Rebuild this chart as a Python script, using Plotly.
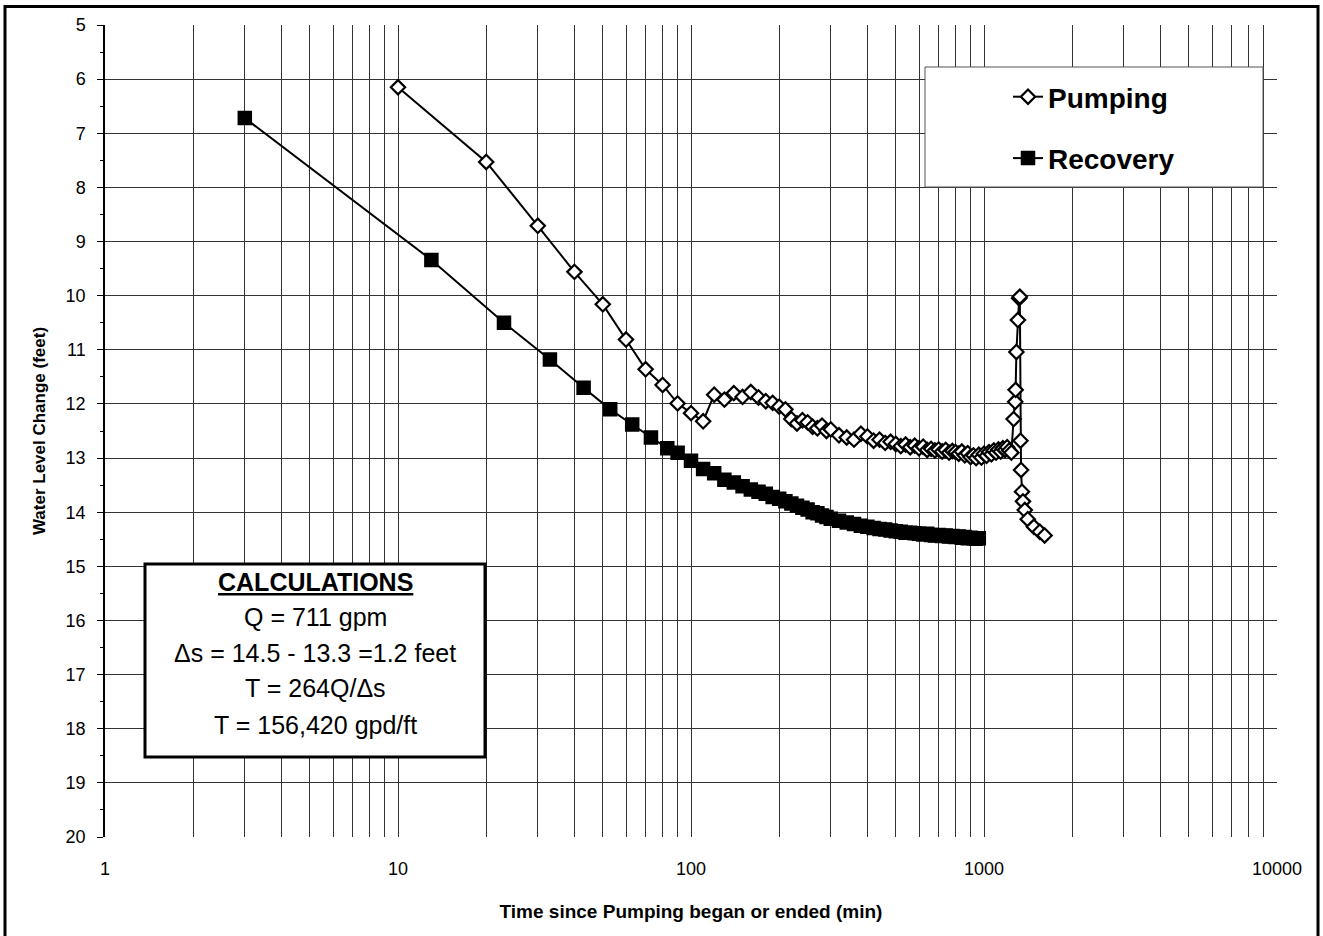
import plotly.graph_objects as go

# ---------------- data ----------------
pump_t = [10, 20, 30, 40, 50, 60, 70, 80, 90, 100, 110,
          120, 130, 140, 150, 160, 170, 180, 190, 200, 210, 220, 230, 240, 250,
          260, 270, 280, 290, 300,
          320, 340, 360, 380, 400, 420, 440, 460, 480, 500, 520, 540, 560, 580,
          600, 620, 640, 660, 680, 700, 720, 740, 760, 780, 800, 820, 840, 860,
          880, 900, 920, 940, 960, 980, 1000, 1020, 1040, 1060, 1080, 1100, 1120,
          1140, 1160, 1180, 1200, 1220, 1240,
          1262, 1278, 1282, 1290, 1305, 1318, 1325, 1332, 1338, 1348, 1358,
          1378, 1410, 1480, 1550, 1610]
pump_v = [6.15, 7.53, 8.71, 9.56, 10.16, 10.81, 11.36, 11.65, 11.99, 12.17, 12.32,
          11.83, 11.92, 11.80, 11.87, 11.78, 11.88, 11.95, 11.98, 12.05, 12.10,
          12.28, 12.36, 12.30, 12.34, 12.42, 12.45, 12.40, 12.50, 12.47,
          12.58, 12.62, 12.66, 12.55, 12.60, 12.68, 12.66, 12.72, 12.70, 12.74,
          12.78, 12.75, 12.80, 12.77, 12.82, 12.79, 12.85, 12.83, 12.86, 12.84,
          12.88, 12.85, 12.90, 12.87, 12.89, 12.92, 12.88, 12.95, 12.91, 12.98,
          12.95, 13.00, 12.94, 12.99, 12.92, 12.96, 12.89, 12.93, 12.86, 12.90,
          12.84, 12.88, 12.82, 12.85, 12.80, 12.86, 12.90,
          12.28, 11.96, 11.74, 11.04, 10.45, 10.05, 10.02, 12.68, 13.22, 13.62,
          13.80, 13.96, 14.13, 14.27, 14.36, 14.43]

rec_t = [3, 13, 23, 33, 43, 53, 63, 73, 83,
         90, 100, 110, 120, 130, 140, 150, 160, 170, 180, 190, 200, 210, 220,
         230, 240, 250, 260, 270, 280, 290, 300,
         320, 340, 360, 380, 400, 420, 440, 460, 480, 500, 520, 540, 560, 580,
         600, 620, 640, 660, 680, 700, 720, 740, 760, 780, 800, 820, 840, 860,
         880, 900, 920, 940, 960]
rec_v = [6.72, 9.34, 10.50, 11.18, 11.70, 12.10, 12.38, 12.62, 12.82,
         12.90, 13.05, 13.20, 13.28, 13.40, 13.45, 13.52, 13.58, 13.62, 13.66,
         13.72, 13.75, 13.80, 13.84, 13.88, 13.92, 13.95, 14.00, 14.02, 14.06,
         14.09, 14.12,
         14.16, 14.19, 14.22, 14.25, 14.27, 14.29, 14.31, 14.32, 14.34, 14.35,
         14.36, 14.38, 14.38, 14.39, 14.40, 14.41, 14.40, 14.42, 14.43, 14.42,
         14.44, 14.43, 14.45, 14.44, 14.46, 14.45, 14.47, 14.46, 14.48, 14.47,
         14.48, 14.49, 14.48]

x_tickvals = [1, 10, 100, 1000, 10000]
x_ticktext = ["1", "10", "100", "1000", "10000"]
x_minor = [m * d for d in (1, 10, 100, 1000) for m in range(2, 10)]
y_tickvals = list(range(5, 21))

calc_lines = ["<b><u>CALCULATIONS</u></b>",
              "Q = 711 gpm",
              "\u0394s = 14.5 - 13.3 =1.2 feet",
              "T = 264Q/\u0394s",
              "T = 156,420 gpd/ft"]

FONT = "Liberation Sans, Arial, sans-serif"

# ---------------- layout geometry (pixels -> paper) ----------------
W, H = 1323, 936
L, R, T, B = 105, 46, 25, 99
PW, PH = W - L - R, H - T - B


def px(x):
    return (x - L) / PW


def py(y):
    return (H - B - y) / PH


fig = go.Figure()

fig.add_trace(go.Scatter(
    x=pump_t, y=pump_v, name="Pumping", mode="lines+markers",
    line=dict(color="black", width=2),
    marker=dict(symbol="diamond", size=11, color="white",
                line=dict(color="black", width=2.2)),
    legendgroup="a"))

fig.add_trace(go.Scatter(
    x=rec_t, y=rec_v, name="Recovery", mode="lines+markers",
    line=dict(color="black", width=2),
    marker=dict(symbol="square", size=13, color="black",
                line=dict(color="black", width=1.5)),
    legendgroup="b"))

shapes = [
    # outer frame
    dict(type="rect", xref="paper", yref="paper",
         x0=px(5), x1=px(1318), y0=py(6.5), y1=py(950),
         line=dict(color="black", width=3), fillcolor="rgba(0,0,0,0)", layer="above"),
    # legend box
    dict(type="rect", xref="paper", yref="paper",
         x0=px(925), x1=px(1263), y0=py(67), y1=py(187),
         line=dict(color="#555", width=1), fillcolor="white", layer="above"),
    # calculations box
    dict(type="rect", xref="paper", yref="paper",
         x0=px(145), x1=px(485), y0=py(564), y1=py(757),
         line=dict(color="black", width=3), fillcolor="white", layer="above"),
]

annotations = []
calc_y = [582, 617, 653, 688, 725]
for txt, yy in zip(calc_lines, calc_y):
    annotations.append(dict(
        text=txt, xref="paper", yref="paper", x=px(315), y=py(yy),
        xanchor="center", yanchor="middle", showarrow=False,
        font=dict(family=FONT, size=25, color="black")))

fig.update_layout(
    width=W, height=H,
    margin=dict(l=L, r=R, t=T, b=B),
    paper_bgcolor="white", plot_bgcolor="white",
    font=dict(family=FONT, color="black"),
    shapes=shapes,
    annotations=annotations,
    showlegend=True,
    legend=dict(x=px(1008), y=py(72), xanchor="left", yanchor="top",
                bgcolor="rgba(0,0,0,0)", borderwidth=0,
                font=dict(family=FONT, size=28, color="black", weight="bold"),
                traceorder="grouped", tracegroupgap=22),
    xaxis=dict(
        type="log", range=[0, 4],
        tickvals=x_tickvals, ticktext=x_ticktext,
        showgrid=True, gridcolor="#333", gridwidth=1,
        minor=dict(tickvals=x_minor, showgrid=True, gridcolor="#333",
                   gridwidth=1, ticks=""),
        ticks="", showline=False, zeroline=False,
        tickfont=dict(family=FONT, size=18, color="black"),
        ticklabelstandoff=19,
        title=dict(text="<b>Time since Pumping began or ended (min)</b>",
                   font=dict(family=FONT, size=19, color="black"), standoff=26),
    ),
    yaxis=dict(
        range=[20, 5], tickvals=y_tickvals,
        showgrid=True, gridcolor="#333", gridwidth=1,
        ticks="outside", ticklen=6, tickcolor="black",
        minor=dict(dtick=0.5, ticks="outside", ticklen=3, tickcolor="black",
                   showgrid=False),
        showline=True, linecolor="black", linewidth=1.5, zeroline=False,
        tickfont=dict(family=FONT, size=18, color="black"),
        ticklabelstandoff=8,
        title=dict(text="<b>Water Level Change (feet)</b>",
                   font=dict(family=FONT, size=17, color="black"), standoff=16),
    ),
)

fig.write_html("out.html")
